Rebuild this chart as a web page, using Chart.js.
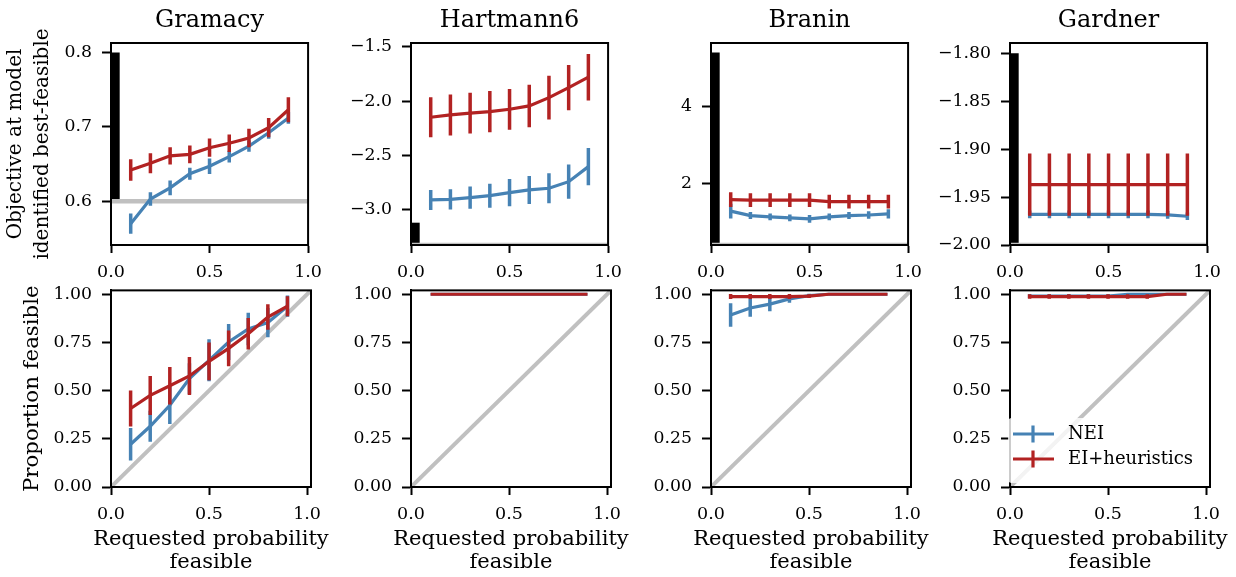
<!DOCTYPE html>
<html>
<head>
<meta charset="utf-8">
<script src="https://cdn.jsdelivr.net/npm/chart.js@4.4.1/dist/chart.umd.min.js"></script>
<style>
  html, body { margin: 0; padding: 0; background: #fff; }
  #page { position: relative; width: 1236px; height: 577px; overflow: hidden; background: #fff; }
  .panel { position: absolute; }
</style>
</head>
<body>
<div id="page"></div>
<script>
// requested probability feasible
const xs = [0.1, 0.2, 0.3, 0.4, 0.5, 0.6, 0.7, 0.8, 0.9];
const problems = ['Gramacy', 'Hartmann6', 'Branin', 'Gardner'];
const legendNames = ['NEI', 'EI+heuristics'];

// top row: objective at model-identified best feasible (mean, +/- err)
const gramacyNeiObj    = [0.570, 0.603, 0.618, 0.637, 0.647, 0.660, 0.674, 0.692, 0.712];
const gramacyNeiObjErr = [0.0135, 0.009, 0.010, 0.008, 0.0105, 0.008, 0.0075, 0.008, 0.008];
const gramacyEiObj     = [0.642, 0.651, 0.661, 0.663, 0.672, 0.678, 0.685, 0.699, 0.723];
const gramacyEiObjErr  = [0.0145, 0.0135, 0.0117, 0.012, 0.0123, 0.0117, 0.0123, 0.013, 0.0168];

const hartmannNeiObj    = [-2.908, -2.902, -2.887, -2.869, -2.841, -2.816, -2.801, -2.740, -2.602];
const hartmannNeiObjErr = [0.092, 0.093, 0.103, 0.110, 0.126, 0.129, 0.138, 0.158, 0.172];
const hartmannEiObj     = [-2.148, -2.127, -2.111, -2.097, -2.075, -2.044, -1.968, -1.876, -1.780];
const hartmannEiObjErr  = [0.184, 0.188, 0.187, 0.190, 0.187, 0.195, 0.200, 0.207, 0.214];

const braninNeiObj    = [1.28, 1.165, 1.13, 1.105, 1.08, 1.13, 1.165, 1.18, 1.21];
const braninNeiObjErr = [0.19, 0.09, 0.09, 0.09, 0.10, 0.09, 0.09, 0.10, 0.12];
const braninEiObj     = [1.58, 1.565, 1.565, 1.565, 1.565, 1.53, 1.53, 1.53, 1.53];
const braninEiObjErr  = [0.19, 0.18, 0.18, 0.18, 0.18, 0.18, 0.18, 0.18, 0.18];

const gardnerNeiObj    = [-1.968, -1.968, -1.968, -1.968, -1.968, -1.968, -1.968, -1.9685, -1.970];
const gardnerNeiObjErr = [0.004, 0.004, 0.004, 0.004, 0.004, 0.004, 0.004, 0.004, 0.004];
const gardnerEiObj     = [-1.937, -1.937, -1.937, -1.937, -1.937, -1.937, -1.937, -1.937, -1.937];
const gardnerEiObjErr  = [0.0325, 0.0325, 0.0325, 0.0325, 0.0325, 0.0325, 0.0325, 0.0325, 0.0325];

// global optimum (grey line) and the black bar at the left edge
const objOptimum = [0.6, -3.322, 0.398, -2.0];
const barTop     = [0.8, -3.117, 5.41, -1.80];
const barX       = 0.0225;

// top row axis limits / ticks
const objYMin   = [0.5413, -3.322, 0.398, -2.0];
const objYMax   = [0.8126, -1.466, 5.66, -1.7893];
const objYTicks = [[0.6, 0.7, 0.8], [-3.0, -2.5, -2.0, -1.5], [2, 4], [-2.0, -1.95, -1.9, -1.85, -1.8]];
const objYDec   = [1, 1, 0, 2];
const objXTicks = [0, 0.5, 1.0];

// bottom row: proportion feasible
const gramacyNeiFeas    = [0.222, 0.315, 0.424, 0.562, 0.657, 0.752, 0.820, 0.853, 0.938];
const gramacyNeiFeasErr = [0.084, 0.080, 0.097, 0.080, 0.109, 0.093, 0.084, 0.076, 0.055];
const gramacyEiFeas     = [0.407, 0.475, 0.525, 0.576, 0.652, 0.719, 0.795, 0.882, 0.938];
const gramacyEiFeasErr  = [0.093, 0.101, 0.097, 0.099, 0.098, 0.093, 0.082, 0.066, 0.052];

const hartmannNeiFeas    = [1, 1, 1, 1, 1, 1, 1, 1, 1];
const hartmannNeiFeasErr = [0, 0, 0, 0, 0, 0, 0, 0, 0];
const hartmannEiFeas     = [1, 1, 1, 1, 1, 1, 1, 1, 1];
const hartmannEiFeasErr  = [0, 0, 0, 0, 0, 0, 0, 0, 0];

const braninNeiFeas    = [0.892, 0.929, 0.949, 0.976, 0.993, 1, 1, 1, 1];
const braninNeiFeasErr = [0.061, 0.046, 0.037, 0.020, 0.010, 0, 0, 0, 0];
const braninEiFeas     = [0.988, 0.988, 0.988, 0.988, 0.990, 1, 1, 1, 1];
const braninEiFeasErr  = [0.013, 0.013, 0.013, 0.013, 0.010, 0, 0, 0, 0];

const gardnerNeiFeas    = [0.99, 0.99, 0.99, 0.99, 0.99, 1, 1, 1, 1];
const gardnerNeiFeasErr = [0.01, 0.01, 0.01, 0.01, 0.01, 0, 0, 0, 0];
const gardnerEiFeas     = [0.988, 0.988, 0.988, 0.988, 0.988, 0.988, 0.988, 1, 1];
const gardnerEiFeasErr  = [0.012, 0.012, 0.012, 0.012, 0.012, 0.012, 0.012, 0, 0];

const feasTicks = [0, 0.25, 0.5, 0.75, 1.0];
const feasXTicks = [0, 0.5, 1.0];
const feasMax = 1.02;
const diagLine = [0, 1.02];

const objNei    = [gramacyNeiObj, hartmannNeiObj, braninNeiObj, gardnerNeiObj];
const objNeiErr = [gramacyNeiObjErr, hartmannNeiObjErr, braninNeiObjErr, gardnerNeiObjErr];
const objEi     = [gramacyEiObj, hartmannEiObj, braninEiObj, gardnerEiObj];
const objEiErr  = [gramacyEiObjErr, hartmannEiObjErr, braninEiObjErr, gardnerEiObjErr];
const feasNei    = [gramacyNeiFeas, hartmannNeiFeas, braninNeiFeas, gardnerNeiFeas];
const feasNeiErr = [gramacyNeiFeasErr, hartmannNeiFeasErr, braninNeiFeasErr, gardnerNeiFeasErr];
const feasEi     = [gramacyEiFeas, hartmannEiFeas, braninEiFeas, gardnerEiFeas];
const feasEiErr  = [gramacyEiFeasErr, hartmannEiFeasErr, braninEiFeasErr, gardnerEiFeasErr];

const BLUE = '#4682b4';
const RED = '#b22222';
const GREY = '#c0c0c0';
const legendColors = [BLUE, RED];

Chart.defaults.font.family = '"DejaVu Serif", serif';
Chart.defaults.color = '#000';

// plot area placement
const colLeft = [111, 411, 711, 1010];
const plotW = 200;

function meanPts(mean) {
  return xs.map((x, i) => ({ x, y: mean[i] }));
}

// vertical error bars as one line dataset broken by gaps
function errPts(mean, err) {
  const pts = [];
  xs.forEach((x, i) => {
    pts.push({ x, y: mean[i] - err[i] }, { x, y: mean[i] + err[i] }, { x, y: null });
  });
  return pts;
}

function fmtTick(v, dec) {
  const s = Math.abs(v).toFixed(dec);
  return (v < -1e-9 ? '\u2212' : '') + s;
}

function seriesSets(nei, neiErr, ei, eiErr) {
  return [
    { label: 'EI+heuristics err', data: errPts(ei, eiErr), borderColor: RED, borderWidth: 3.5 },
    { label: 'EI+heuristics', data: meanPts(ei), borderColor: RED, borderWidth: 3.2 },
    { label: 'NEI err', data: errPts(nei, neiErr), borderColor: BLUE, borderWidth: 3.5 },
    { label: 'NEI', data: meanPts(nei), borderColor: BLUE, borderWidth: 3.2 },
  ];
}

const framePlugin = {
  id: 'frame',
  afterDatasetsDraw(chart) {
    const { ctx, chartArea: a } = chart;
    ctx.save();
    ctx.strokeStyle = '#000';
    ctx.lineWidth = 2;
    ctx.strokeRect(a.left, a.top, a.right - a.left, a.bottom - a.top);
    ctx.restore();
  }
};

// two-line x label, centred under the plot (scale titles get squeezed to the plot width)
const xLabelPlugin = {
  id: 'xLabel',
  afterDraw(chart, args, opts) {
    if (!opts.lines) return;
    const { ctx, chartArea: a } = chart;
    ctx.save();
    ctx.font = '21px "DejaVu Serif"';
    ctx.fillStyle = '#000';
    ctx.textAlign = 'center';
    ctx.textBaseline = 'middle';
    opts.lines.forEach((t, i) => ctx.fillText(t, (a.left + a.right) / 2, a.bottom + 53 + i * 23));
    ctx.restore();
  }
};

const legendPlugin = {
  id: 'cornerLegend',
  afterDraw(chart) {
    const { ctx, chartArea: a } = chart;
    ctx.save();
    ctx.fillStyle = 'rgba(255,255,255,0.8)';
    ctx.beginPath();
    ctx.roundRect(a.left - 2, a.bottom - 69, 192, 65, 4);
    ctx.fill();
    legendNames.forEach((name, i) => {
      const y = a.bottom - 53 + i * 25;
      ctx.strokeStyle = legendColors[i];
      ctx.lineWidth = 3.2;
      ctx.beginPath();
      ctx.moveTo(a.left + 3, y);
      ctx.lineTo(a.left + 44, y);
      ctx.moveTo(a.left + 23, y - 8.5);
      ctx.lineTo(a.left + 23, y + 8.5);
      ctx.stroke();
      ctx.fillStyle = '#000';
      ctx.font = '18px "DejaVu Serif"';
      ctx.textBaseline = 'middle';
      ctx.fillText(name, a.left + 58, y);
    });
    ctx.restore();
  }
};

function makePanel(p) {
  const div = document.createElement('div');
  div.className = 'panel';
  div.style.left = p.left + 'px';
  div.style.top = p.top + 'px';
  div.style.width = p.width + 'px';
  div.style.height = p.height + 'px';
  const cv = document.createElement('canvas');
  div.appendChild(cv);
  document.getElementById('page').appendChild(div);

  const plugins = [framePlugin, xLabelPlugin];
  if (p.legend) plugins.push(legendPlugin);

  return new Chart(cv, {
    type: 'line',
    data: { datasets: p.datasets },
    plugins,
    options: {
      responsive: true,
      maintainAspectRatio: false,
      animation: false,
      events: [],
      devicePixelRatio: 1,
      layout: { padding: { top: p.padTop, right: 20, bottom: 0, left: 0 } },
      elements: {
        point: { radius: 0, hoverRadius: 0 },
        line: { tension: 0, fill: false, borderCapStyle: 'butt' }
      },
      datasets: { line: { spanGaps: false } },
      plugins: {
        legend: { display: false },
        tooltip: { enabled: false },
        xLabel: { lines: p.xTitle || null },
        title: p.title ? {
          display: true, text: p.title, fullSize: false, color: '#000',
          font: { size: 24, weight: 'normal', lineHeight: '28px' },
          padding: { top: 7, bottom: 8 }
        } : { display: false }
      },
      scales: {
        x: {
          type: 'linear', min: 0, max: p.xMax, bounds: 'data',
          afterBuildTicks: s => { s.ticks = p.xTicks.map(v => ({ value: v })); },
          afterFit: s => { s.height = p.xAxisH; },
          ticks: { callback: v => v.toFixed(1), font: { size: 17.5 }, padding: 9, autoSkip: false, maxRotation: 0, color: '#000' },
          grid: { display: true, drawOnChartArea: false, drawTicks: true, tickLength: 8, tickWidth: 2, tickColor: '#000' },
          border: { display: true, color: '#000', width: 2 }
        },
        y: {
          type: 'linear', min: p.yMin, max: p.yMax, bounds: 'data',
          afterBuildTicks: s => { s.ticks = p.yTicks.map(v => ({ value: v })); },
          afterFit: s => { s.width = p.yAxisW; },
          ticks: { callback: v => fmtTick(v, p.yDec), font: { size: 17.3 }, padding: 10, autoSkip: false, color: '#000' },
          grid: { display: true, drawOnChartArea: false, drawTicks: true, tickLength: 9, tickWidth: 2, tickColor: '#000' },
          border: { display: true, color: '#000', width: 2 },
          title: p.yTitle ? {
            display: true, text: p.yTitle, color: '#000',
            font: { size: p.yTitleSize, lineHeight: '27px' }, padding: { top: p.yTitlePad, bottom: 0 }
          } : { display: false }
        }
      }
    }
  });
}

problems.forEach((name, c) => {
  const yAxisW = c === 0 ? colLeft[0] : 100;
  const left = colLeft[c] - yAxisW;

  // top row
  const topSets = seriesSets(objNei[c], objNeiErr[c], objEi[c], objEiErr[c]);
  topSets.push({ label: 'optimum', data: [{ x: 0, y: objOptimum[c] }, { x: 1, y: objOptimum[c] }], borderColor: GREY, borderWidth: 4.5 });
  topSets.push({ label: 'bar', data: [{ x: barX, y: objOptimum[c] }, { x: barX, y: barTop[c] }], borderColor: '#000', borderWidth: 8.5 });
  makePanel({
    left, top: 0, width: yAxisW + plotW + 20, height: 290, padTop: 0,
    title: name, datasets: topSets,
    xMax: 1, xTicks: objXTicks, xAxisH: 45,
    yMin: objYMin[c], yMax: objYMax[c], yTicks: objYTicks[c], yDec: objYDec[c], yAxisW,
    yTitle: c === 0 ? ['Objective at model', 'identified best-feasible'] : null, yTitlePad: 2, yTitleSize: 20
  });

  // bottom row
  const botSets = seriesSets(feasNei[c], feasNeiErr[c], feasEi[c], feasEiErr[c]);
  botSets.push({ label: 'y = x', data: diagLine.map(v => ({ x: v, y: v })), borderColor: GREY, borderWidth: 4 });
  makePanel({
    left, top: 270, width: yAxisW + plotW + 20, height: 307, padTop: 15,
    datasets: botSets, legend: c === 3,
    xMax: feasMax, xTicks: feasXTicks, xAxisH: 90,
    xTitle: ['Requested probability', 'feasible'],
    yMin: 0, yMax: feasMax, yTicks: feasTicks, yDec: 2, yAxisW,
    yTitle: c === 0 ? 'Proportion feasible' : null, yTitlePad: 19, yTitleSize: 21.3
  });
});
</script>
</body>
</html>
